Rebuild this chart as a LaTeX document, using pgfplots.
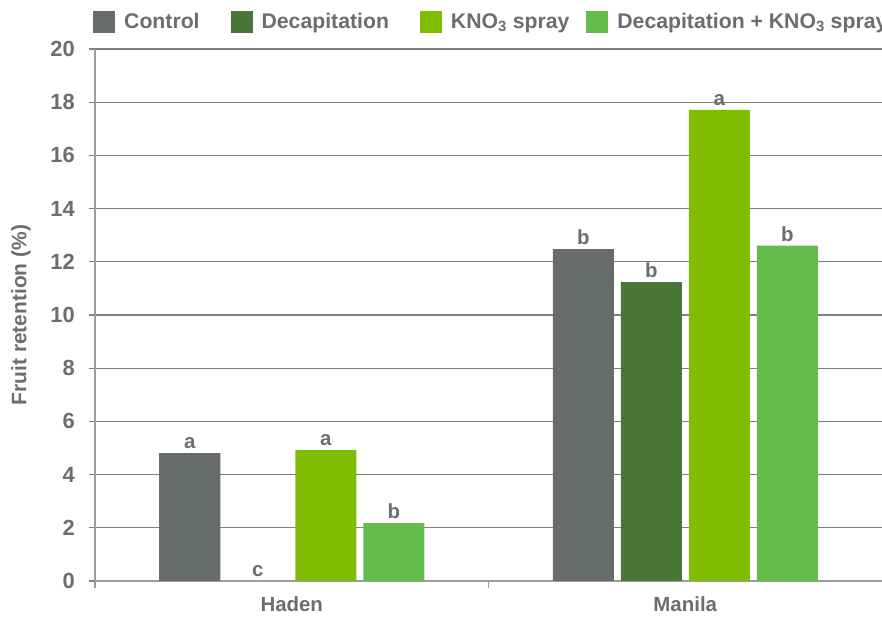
\documentclass[border=0pt]{standalone}
\usepackage{fontspec}
\setmainfont{Liberation Sans}
\usepackage{pgfplots}
\pgfplotsset{compat=1.18}
\definecolor{cCtrl}{HTML}{676B6B}
\definecolor{cDec}{HTML}{497636}
\definecolor{cKNO}{HTML}{80BC00}
\definecolor{cDK}{HTML}{65BC4A}
\definecolor{cText}{HTML}{6B6E6E}
\definecolor{cGrid}{HTML}{808080}
\definecolor{cAxis}{HTML}{9B9B9B}
\newcommand{\fs}[1]{\bfseries\fontsize{#1}{#1}\selectfont}
\begin{document}
\begin{tikzpicture}
\begin{axis}[name=ax, scale only axis, width=787bp, height=532bp,
  ybar=7bp, bar width=61bp,
  xmin=-0.5, xmax=1.5, ymin=0, ymax=20,
  ytick={0,2,...,20},
  xtick={0,1}, xticklabels={Haden,Manila},
  minor xtick={-0.5,0.5},
  major x tick style={draw=none},
  minor tick length=7bp, major tick length=6bp,
  tick align=outside,
  tick style={color=cGrid, line width=1.2bp},
  minor x tick style={color=cAxis, line width=1.5bp},
  axis x line*=bottom, axis y line*=left,
  axis line style={color=cAxis, line width=2bp, -},
  ymajorgrids, grid style={color=cGrid, line width=1.2bp},
  /pgf/number format/assume math mode=true,
  yticklabel style={font=\fs{22}, text=cText, anchor=east, inner sep=0pt, xshift=-14bp},
  xticklabel style={font=\fs{20.5}, text=cText, anchor=north, inner sep=0pt, yshift=-10bp},
  ylabel={Fruit retention (\%)},
  ylabel style={font=\fs{21}, text=cText, at={([xshift=-74bp]axis description cs:0,0.5)}, anchor=center, rotate=0},
  nodes near coords, point meta=explicit symbolic,
  nodes near coords style={font=\fs{20.5}, text=cText, anchor=south, inner sep=0pt, yshift=4bp},
  legend columns=4,
  legend image code/.code={\fill[#1, draw=none] (0bp,-11bp) rectangle (22bp,11bp);},
  legend style={at={([xshift=-2bp,yshift=16bp]axis description cs:0,1)}, anchor=south west, draw=none, fill=none,
    font=\fs{21.3}, text=cText, inner sep=0pt,
    nodes={inner sep=0pt},
    /tikz/every odd column/.append style={column sep=9bp},
    /tikz/every even column/.append style={column sep=0bp}},
]
\addplot[fill=cCtrl, draw=none] table[x=x, y=y, meta=l] {
x y l
0 4.81 a
1 12.48 b
};
\addplot[fill=cDec, draw=none] table[x=x, y=y, meta=l] {
x y l
0 0 c
1 11.24 b
};
\addplot[fill=cKNO, draw=none] table[x=x, y=y, meta=l] {
x y l
0 4.92 a
1 17.71 a
};
\addplot[fill=cDK, draw=none] table[x=x, y=y, meta=l] {
x y l
0 2.18 b
1 12.61 b
};
\legend{Control\hspace*{31bp}, Decapitation\hspace*{31bp}, KNO\textsubscript{3} spray\hspace*{17bp}, Decapitation + KNO\textsubscript{3} spray}
\end{axis}
\pgfresetboundingbox
\path[use as bounding box] ([xshift=-95bp,yshift=-36bp]ax.south west) rectangle ([yshift=49bp]ax.north east);
\end{tikzpicture}
\end{document}
